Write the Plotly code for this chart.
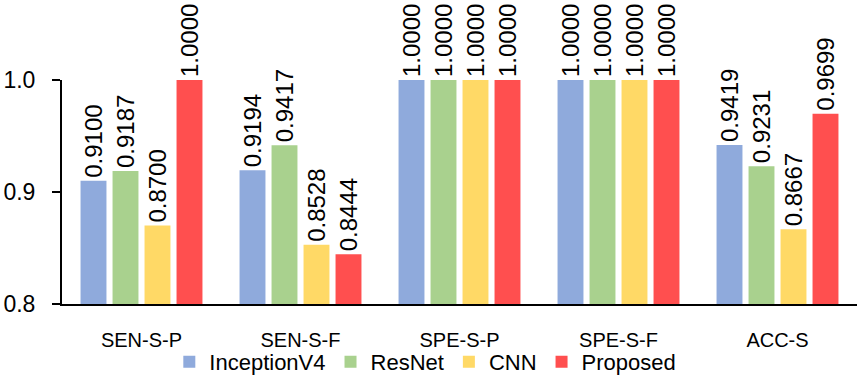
import plotly.graph_objects as go

categories = ["SEN-S-P", "SEN-S-F", "SPE-S-P", "SPE-S-F", "ACC-S"]
series_names = ["InceptionV4", "ResNet", "CNN", "Proposed"]
inception_v4 = [0.9100, 0.9194, 1.0000, 1.0000, 0.9419]
resnet = [0.9187, 0.9417, 1.0000, 1.0000, 0.9231]
cnn = [0.8700, 0.8528, 1.0000, 1.0000, 0.8667]
proposed = [1.0000, 0.8444, 1.0000, 1.0000, 0.9699]
colors = ["#8FAADC", "#A9D18E", "#FFD966", "#FF4F4F"]
y_ticks = [0.8, 0.9, 1.0]

FONT = "Liberation Sans"

fig = go.Figure()
for name, vals, col in zip(series_names, [inception_v4, resnet, cnn, proposed], colors):
    fig.add_trace(go.Bar(
        x=categories, y=vals, name=name,
        marker=dict(color=col, line=dict(width=0)),
        texttemplate="%{y:.4f}", textposition="outside", textangle=-90,
        textfont=dict(size=24, color="#000000", family=FONT),
        cliponaxis=False, constraintext="none",
    ))

fig.update_layout(
    width=858, height=377,
    margin=dict(l=62, r=1, t=80, b=73, autoexpand=False),
    paper_bgcolor="white", plot_bgcolor="white",
    barmode="group", bargap=0.195, bargroupgap=0.19,
    font=dict(family=FONT, color="#000000"),
    showlegend=True,
    legend=dict(orientation="h", x=0.457, xanchor="center",
                yref="container", y=0.04, yanchor="middle",
                font=dict(size=22, family=FONT), bgcolor="rgba(0,0,0,0)",
                traceorder="normal"),
    xaxis=dict(showline=True, linecolor="#000000", linewidth=1.5, showgrid=False,
               ticks="", tickfont=dict(size=20, family=FONT), ticklabelstandoff=17,
               fixedrange=True),
    yaxis=dict(range=[0.8, 1.0], tickvals=y_ticks, tickformat=".1f",
               showline=True, linecolor="#000000", linewidth=2, showgrid=False,
               ticks="outside", ticklen=8, tickwidth=1.5, tickcolor="#000000",
               tickfont=dict(size=23, family=FONT), ticklabelstandoff=12,
               zeroline=False, fixedrange=True),
)

fig.write_html("out.html")
